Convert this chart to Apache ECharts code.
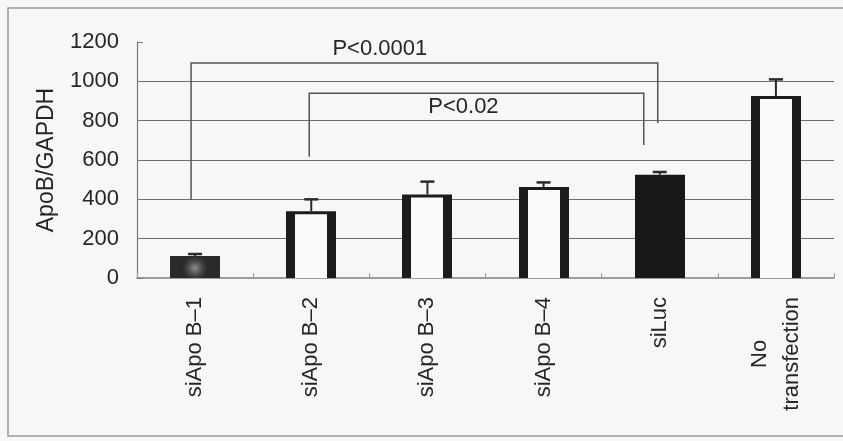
<!DOCTYPE html>
<html>
<head>
<meta charset="utf-8">
<script src="https://cdn.jsdelivr.net/npm/echarts@6/dist/echarts.min.js"></script>
<style>
  html, body { margin: 0; padding: 0; background: #f7f7f5; }
  #chart { width: 843px; height: 441px; }
</style>
</head>
<body>
<div id="chart"></div>
<script>
// ApoB mRNA relative to GAPDH after siRNA transfection
const categories = ['siApo B–1', 'siApo B–2', 'siApo B–3', 'siApo B–4', 'siLuc', 'No\ntransfection'];
const apoBRatio = [112, 340, 425, 463, 525, 925];
const errorUpper = [10, 60, 65, 23, 14, 85];
const yTickValues = [0, 200, 400, 600, 800, 1000, 1200];

// significance brackets: compared bars, p text, bracket heights
const pLabels = ['P<0.0001', 'P<0.02'];
const bracketFrom = [0, 1];
const bracketTo = [4, 4];
const bracketTop = [1093, 939];
const bracketLeftEnd = [397, 617];
const bracketRightEnd = [788, 676];

// ---- drawing ----
const FONT = '"Liberation Sans", Arial, sans-serif';
const TEXT = '#262626';
const barKind = ['shaded', 'hollow', 'hollow', 'hollow', 'solid', 'hollow'];
const bracketXShift = [[-4, -2], [-2, -16]];
const labelAt = [[1.59, -14], [2.31, 14]]; // category position, pixel offset from bracket top

function renderBar(params, api) {
  const idx = api.value(0);
  const val = api.value(1);
  const err = api.value(2);
  const base = api.coord([idx, 0]);
  const top = api.coord([idx, val]);
  const errTop = api.coord([idx, val + err]);
  const band = api.size([1, 0])[0];
  const w = Math.round(band * 0.43);
  const x = Math.round(base[0] - w / 2);
  const h = base[1] - top[1];
  const cx = base[0];
  const kids = [
    { type: 'line', shape: { x1: cx, y1: top[1], x2: cx, y2: errTop[1] },
      style: { stroke: '#2a2a2a', lineWidth: 2 } },
    { type: 'line', shape: { x1: cx - 7, y1: errTop[1], x2: cx + 7, y2: errTop[1] },
      style: { stroke: '#2a2a2a', lineWidth: 2.5 } }
  ];
  const kind = barKind[idx];
  if (kind === 'hollow') {
    kids.push({ type: 'rect', shape: { x: x, y: top[1], width: w, height: h }, style: { fill: '#1c1c1c' } });
    kids.push({ type: 'rect', shape: { x: x + 9, y: top[1] + 3, width: w - 18, height: h - 3 }, style: { fill: '#fafafa' } });
  } else if (kind === 'solid') {
    kids.push({ type: 'rect', shape: { x: x, y: top[1], width: w, height: h }, style: { fill: '#181818' } });
  } else {
    kids.push({ type: 'rect', shape: { x: x, y: top[1], width: w, height: h },
      style: { fill: new echarts.graphic.RadialGradient(0.5, 0.55, 0.55, [
        { offset: 0, color: '#8c8c8c' }, { offset: 0.6, color: '#474747' }, { offset: 1, color: '#2a2a2a' }]) } });
  }
  return { type: 'group', children: kids };
}

function renderBracket(params, api) {
  const i = params.dataIndex;
  const from = api.value(0), to = api.value(1);
  const topL = api.coord([from, api.value(2)]);
  const topR = api.coord([to, api.value(2)]);
  const endL = api.coord([from, api.value(3)]);
  const endR = api.coord([to, api.value(4)]);
  const xl = topL[0] + bracketXShift[i][0];
  const xr = topR[0] + bracketXShift[i][1];
  const y = topL[1];
  const band = api.size([1, 0])[0];
  const lx = api.coord([0, 0])[0] + labelAt[i][0] * band;
  const stroke = { stroke: '#555', lineWidth: 1.5, fill: null };
  return {
    type: 'group',
    children: [
      { type: 'polyline', shape: { points: [[xl, endL[1]], [xl, y], [xr, y], [xr, endR[1]]] }, style: stroke },
      { type: 'text', x: lx, y: y + labelAt[i][1],
        style: { text: pLabels[i], fill: TEXT, font: '22px ' + FONT, align: 'center', verticalAlign: 'middle' } }
    ]
  };
}

const chart = echarts.init(document.getElementById('chart'), null, { renderer: 'canvas' });
chart.setOption({
  backgroundColor: '#f7f7f5',
  animation: false,
  graphic: [{
    type: 'rect', z: -10, silent: true,
    shape: { x: 8, y: 8, width: 850, height: 428 },
    style: { fill: null, stroke: '#9a9a9a', lineWidth: 1.5 }
  }],
  grid: { left: 137, right: 9, top: 42, bottom: 163, containLabel: false, outerBoundsMode: 'none' },
  xAxis: {
    type: 'category',
    data: categories,
    boundaryGap: true,
    axisLine: { lineStyle: { color: '#808080', width: 1.5 } },
    axisTick: { show: true, inside: true, length: 5, lineStyle: { color: '#999' } },
    axisLabel: {
      rotate: 90, margin: 19, fontSize: 22, color: TEXT, fontFamily: FONT, lineHeight: 32,
      formatter: v => v.indexOf('\n') >= 0 ? v.split('\n').map(s => '{c|' + s + '}').join('\n') : v,
      rich: { c: { align: 'center', fontSize: 22, lineHeight: 32, color: TEXT, fontFamily: FONT } }
    },
    splitLine: { show: false }
  },
  yAxis: {
    type: 'value',
    min: yTickValues[0],
    max: yTickValues[yTickValues.length - 1],
    interval: yTickValues[1] - yTickValues[0],
    name: 'ApoB/GAPDH',
    nameLocation: 'middle',
    nameGap: 79,
    nameRotate: 90,
    nameTextStyle: { fontSize: 23, color: TEXT, fontFamily: FONT },
    axisLine: { show: true, lineStyle: { color: '#777', width: 1.2 } },
    axisTick: { show: true, inside: true, length: 6, lineStyle: { color: '#777' } },
    axisLabel: { fontSize: 22, color: TEXT, fontFamily: FONT, margin: 18, formatter: v => String(v) },
    splitLine: { show: true, showMinLine: false, showMaxLine: false, lineStyle: { color: '#6e6e6e', width: 1.2 } }
  },
  series: [
    {
      type: 'custom',
      renderItem: renderBracket,
      encode: { x: [0, 1], y: [2, 3, 4] },
      data: pLabels.map((p, i) => [bracketFrom[i], bracketTo[i], bracketTop[i], bracketLeftEnd[i], bracketRightEnd[i]]),
      clip: false,
      z: 3
    },
    {
      type: 'custom',
      renderItem: renderBar,
      encode: { x: 0, y: [1, 2] },
      data: categories.map((c, i) => [i, apoBRatio[i], errorUpper[i]]),
      z: 2
    }
  ]
});
</script>
</body>
</html>
